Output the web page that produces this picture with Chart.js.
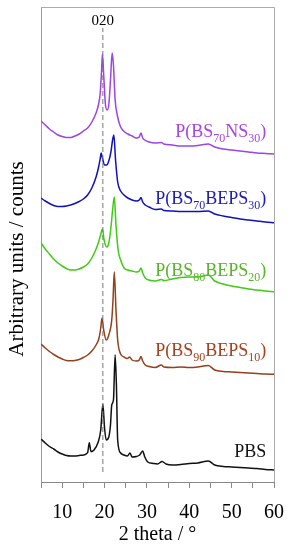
<!DOCTYPE html>
<html>
<head>
<meta charset="utf-8">
<script src="https://cdn.jsdelivr.net/npm/chart.js@4"></script>
<style>
  html, body { margin: 0; padding: 0; background: #fff; }
</style>
</head>
<body>
<canvas id="xrd" width="297" height="550"></canvas>
<script>
// 2 theta (deg) and intensity (arbitrary units, curves already stacked)
var pbsTheta = [5, 6, 7, 8, 9, 10, 11, 12, 13, 14, 15, 16, 16.4, 16.8, 17.5, 18.5, 19.1, 19.6, 20, 20.4, 21, 21.4, 21.7, 22.1, 22.5, 22.8, 23.1, 23.8, 24.6, 25.4, 26, 26.5, 27.5, 28.3, 29, 29.5, 30.2, 31.5, 32.5, 33.6, 34.5, 36, 38, 40, 42, 44.5, 46, 48, 50, 52, 54, 56, 58, 60];
var pbsCounts = [43, 39, 35.5, 33, 30, 28, 26.5, 26, 26, 26.5, 27, 29.3, 39.3, 30.3, 32, 40, 52, 78, 54, 42, 45, 57, 77, 82, 127, 97, 42, 29, 27, 26, 29, 25, 25.5, 27, 31, 25, 20, 18.5, 18, 20.5, 18, 17, 17.5, 18.5, 19, 21, 17, 15.5, 15, 14.5, 14, 13.5, 12.5, 12];

var bs90Theta = [5, 6, 7, 8, 9, 10, 11, 12, 13, 14, 15, 16, 17, 18, 18.7, 19.1, 19.4, 19.8, 20.4, 21, 21.7, 22, 22.3, 22.7, 23.1, 23.8, 24.6, 25.4, 25.9, 26.5, 27.5, 28.2, 28.6, 29, 29.6, 30.5, 32, 33.4, 34, 36, 38, 40, 42, 44.5, 46, 48, 50, 52, 54, 56, 58, 60];
var bs90Counts = [138, 134, 130.5, 127.5, 125, 123, 121.5, 121.3, 121.5, 122.5, 124.5, 127, 131, 137, 144, 154, 164, 152, 142, 147, 162, 182, 210, 172, 142, 128, 125, 123.5, 125, 122, 121, 122, 125.5, 121, 117, 115.5, 114.5, 117, 115, 114.5, 115, 114.5, 115, 116.5, 112, 110.5, 110, 109.5, 109, 108.5, 108, 107.7];

var bs80Theta = [5, 6, 7, 8, 9, 10, 11, 12, 13, 14, 15, 16, 17, 18, 18.6, 19, 19.5, 19.9, 20.5, 21, 21.5, 21.9, 22.3, 22.7, 23.2, 23.8, 24.6, 25.5, 26.5, 27.5, 28.2, 28.6, 29, 29.6, 30.5, 32, 33.4, 34, 36, 38, 40, 42, 44.5, 46, 48, 50, 52, 54, 56, 58, 60];
var bs80Counts = [239, 233, 228, 223, 219, 216, 213.5, 212, 212, 213, 215, 218, 224, 233, 240, 246, 253, 242, 235, 239, 254, 272, 285, 257, 232, 222, 214, 212, 211, 210, 211, 214, 209, 204, 202, 201, 202.5, 201.5, 203, 204.5, 205, 205, 207, 201, 198, 196, 194.5, 193, 192, 191, 190.3];

var bs70bTheta = [5, 6, 7, 8, 9, 10, 11, 12, 13, 14, 15, 16, 17, 18, 18.6, 19, 19.2, 19.5, 20, 20.5, 21, 21.5, 21.9, 22.2, 22.6, 23.1, 23.8, 24.6, 25.5, 26.5, 27.5, 28.2, 28.6, 29, 29.6, 30.5, 32, 33.4, 34, 36, 38, 40, 42, 44.5, 46, 48, 50, 52, 54, 56, 58, 60];
var bs70bCounts = [284, 281, 278.5, 276.5, 275.5, 275.5, 276, 277, 278.5, 280.5, 283, 287, 294, 305, 315, 324, 329, 324, 317, 317, 321, 330, 342, 347, 322, 300, 291, 287, 284, 282, 281, 282, 284.5, 280, 277, 275, 272.5, 273, 271.5, 271, 270.5, 270.5, 270.5, 271, 268, 266, 264.5, 263, 262, 261, 260, 259.3];

var bs70nTheta = [5, 6, 7, 8, 9, 10, 11, 12, 13, 14, 15, 16, 17, 18, 18.6, 19, 19.3, 19.5, 19.8, 20.2, 20.6, 21, 21.4, 21.8, 22.1, 22.5, 23, 23.7, 24.5, 25.5, 26.5, 27.5, 28.2, 28.6, 29, 29.5, 30.5, 32, 33.4, 34, 36, 38, 40, 42, 44.5, 46, 48, 50, 52, 54, 56, 58, 60];
var bs70nCounts = [361, 357, 353, 350, 347, 345.5, 344.5, 344.5, 346, 348, 351, 354, 360, 369, 378, 390, 412, 428, 407, 378, 372, 377, 402, 429, 417, 382, 367, 356, 351, 348, 346, 344, 345, 349, 344, 342, 340, 339, 339.5, 338, 337, 336, 336, 336.5, 338, 335, 333, 332, 331, 330, 329, 328.5, 328];

// (020) reflection marker
var markerTheta = 19.6;
var markerRange = [10, 454];

var xTickLabels = [10, 20, 30, 40, 50, 60];

// curve names, [text, subscript?]
var pbsName = [["PBS", 0]];
var bs90Name = [["P(BS", 0], ["90", 1], ["BEPS", 0], ["10", 1], [")", 0]];
var bs80Name = [["P(BS", 0], ["80", 1], ["BEPS", 0], ["20", 1], [")", 0]];
var bs70bName = [["P(BS", 0], ["70", 1], ["BEPS", 0], ["30", 1], [")", 0]];
var bs70nName = [["P(BS", 0], ["70", 1], ["NS", 0], ["30", 1], [")", 0]];

var serif = "'Liberation Serif', 'Times New Roman', serif";

function toPoints(xs, ys) {
  return xs.map(function (x, i) { return { x: x, y: ys[i] }; });
}

function curve(xs, ys, color) {
  return {
    data: toPoints(xs, ys),
    borderColor: color,
    borderWidth: 1.5,
    pointRadius: 0,
    fill: false,
    cubicInterpolationMode: "monotone",
  };
}

var datasets = [
  {
    data: [{ x: markerTheta, y: markerRange[0] }, { x: markerTheta, y: markerRange[1] }],
    borderColor: "#777",
    borderWidth: 1,
    borderDash: [5, 3],
    pointRadius: 0,
  },
  curve(pbsTheta, pbsCounts, "#111111"),
  curve(bs90Theta, bs90Counts, "#93401c"),
  curve(bs80Theta, bs80Counts, "#3fcc12"),
  curve(bs70bTheta, bs70bCounts, "#1010c0"),
  curve(bs70nTheta, bs70nCounts, "#9b45e4"),
];

// label anchors: right edge in 2 theta, baseline in counts
var labelItems = [
  { parts: pbsName, y: 25, color: "#111111" },
  { parts: bs90Name, y: 126, color: "#a8401c" },
  { parts: bs80Name, y: 206, color: "#5ab52a" },
  { parts: bs70bName, y: 278, color: "#1c1cb4" },
  { parts: bs70nName, y: 345, color: "#a845e0" },
];
var labelRight = 58.17;

var annotate = {
  id: "annotate",
  afterDatasetsDraw: function (chart) {
    var c = chart.ctx;
    var xs = chart.scales.x;
    var ys = chart.scales.y;
    var area = chart.chartArea;
    c.save();
    // top and right frame
    c.strokeStyle = "#aaa";
    c.lineWidth = 1;
    c.beginPath();
    c.moveTo(area.left, area.top + 0.5);
    c.lineTo(area.right + 0.5, area.top + 0.5);
    c.lineTo(area.right + 0.5, area.bottom);
    c.stroke();

    // y title (sits a bit below the plot centre in the original)
    c.save();
    c.translate(17, ys.getPixelForValue(223));
    c.rotate(-Math.PI / 2);
    c.fillStyle = "#000";
    c.font = "21px " + serif;
    c.textAlign = "center";
    c.textBaseline = "middle";
    c.fillText("Arbitrary units / counts", 0, 0);
    c.restore();

    c.fillStyle = "#000";
    c.font = "15px " + serif;
    c.textAlign = "center";
    c.textBaseline = "alphabetic";
    c.fillText("020", xs.getPixelForValue(markerTheta), ys.getPixelForValue(markerRange[1]) - 3);

    c.textAlign = "left";
    labelItems.forEach(function (item) {
      var total = 0;
      item.parts.forEach(function (p) {
        c.font = (p[1] ? "12px " : "18px ") + serif;
        total += c.measureText(p[0]).width;
      });
      var x = xs.getPixelForValue(labelRight) - total;
      var y = ys.getPixelForValue(item.y);
      c.fillStyle = item.color;
      item.parts.forEach(function (p) {
        c.font = (p[1] ? "12px " : "18px ") + serif;
        c.fillText(p[0], x, p[1] ? y + 5 : y);
        x += c.measureText(p[0]).width;
      });
    });
    c.restore();
  },
};

var ctx = document.getElementById("xrd").getContext("2d");
var xrdChart = new Chart(ctx, {
  type: "line",
  data: { datasets: datasets },
  options: {
    responsive: false,
    animation: false,
    layout: { padding: { left: 41, right: 16, top: 7, bottom: 4 } },
    plugins: { legend: { display: false }, tooltip: { enabled: false } },
    scales: {
      x: {
        type: "linear",
        min: 5,
        max: 60,
        ticks: {
          stepSize: 5,
          autoSkip: false,
          maxRotation: 0,
          padding: 13,
          color: "#000",
          font: { family: serif, size: 20 },
          callback: function (value) {
            return xTickLabels.indexOf(value) >= 0 ? String(value) : "";
          },
        },
        grid: { display: true, drawOnChartArea: false, tickLength: 6, color: "#888" },
        border: { color: "#888" },
        title: {
          display: true,
          text: "2 theta / °",
          color: "#000",
          font: { family: serif, size: 20, lineHeight: 1.1 },
          padding: { top: -14, bottom: 0 },
        },
      },
      y: {
        min: 0,
        max: 475,
        ticks: { display: false },
        grid: { display: false, drawTicks: false },
        border: { color: "#999" },
        title: { display: false },
      },
    },
  },
  plugins: [annotate],
});
</script>
</body>
</html>
